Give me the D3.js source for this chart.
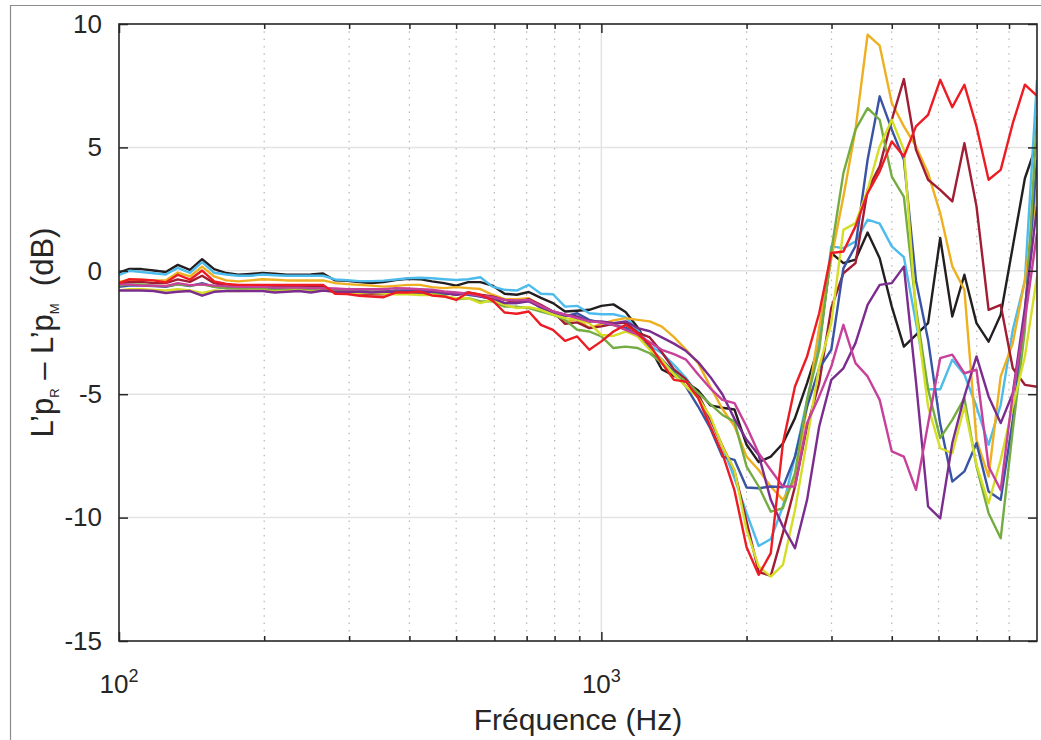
<!DOCTYPE html>
<html>
<head>
<meta charset="utf-8">
<script src="https://cdn.jsdelivr.net/npm/d3@7"></script>
<style>
  body { margin: 0; background: #fff; }
  svg { display: block; font-family: "Liberation Sans", Arial, Helvetica, sans-serif; }
</style>
</head>
<body>
<svg id="chart" width="1041" height="740"></svg>
<script>
// 1/12-octave analysis frequencies (Hz)
const freq = [
  99.21, 105.11, 111.36, 117.98, 125.0, 132.4, 140.3, 148.7, 157.5, 166.9,
  176.8, 187.3, 198.4, 210.2, 222.7, 236.0, 250.0, 264.9, 280.6, 297.3,
  315.0, 333.7, 353.6, 374.6, 396.9, 420.4, 445.4, 471.9, 500.0, 529.7,
  561.2, 594.6, 630.0, 667.4, 707.1, 749.2, 793.7, 840.9, 890.9, 943.9,
  1000, 1059.5, 1122.5, 1189.2, 1259.9, 1334.8, 1414.2, 1498.3, 1587.4, 1681.8,
  1781.8, 1887.7, 2000, 2118.9, 2244.9, 2378.4, 2519.8, 2669.6, 2828.4, 2996.6,
  3174.8, 3363.6, 3563.6, 3775.5, 4000, 4237.8, 4489.8, 4756.8, 5039.7, 5339.4,
  5656.9, 5993.3, 6349.6, 6727.2, 7127.2, 7551.0, 8000
];

// Level differences L'pR - L'pM (dB), one array per measurement position
const curveBlack = [
  -0.09, 0.08, 0.07, 0.01, -0.05, 0.24, 0.04, 0.47, 0.07, -0.09,
  -0.16, -0.13, -0.09, -0.12, -0.16, -0.16, -0.15, -0.11, -0.39, -0.41,
  -0.46, -0.5, -0.46, -0.38, -0.32, -0.34, -0.43, -0.5,
  -0.6, -0.46, -0.46, -0.6, -0.93, -0.97, -0.86, -1.1, -1.31, -1.65, -1.62, -1.58,
  -1.42, -1.36, -1.67, -2.3, -3.1, -4.0, -4.25, -4.5, -4.85, -5.45, -5.55, -5.62,
  -7.05, -7.75, -7.53, -7.0, -5.97, -4.55, -3.0, 0.72, 0.31, 0.45, 1.55, 0.51,
  -1.45, -3.07, -2.6, -2.12, 1.33, -1.85, -0.16, -2.12, -2.87, -1.78, 0.98, 3.75, 5.17
];
const curveLightBlue = [
  -0.2, 0.0, -0.05, -0.1, -0.15, 0.12, -0.08, 0.35, -0.08, -0.15,
  -0.2, -0.2, -0.15, -0.18, -0.2, -0.2, -0.2, -0.2, -0.35, -0.38,
  -0.42, -0.42, -0.4, -0.35, -0.3, -0.28, -0.3, -0.34,
  -0.37, -0.34, -0.26, -0.64, -0.77, -0.8, -0.57, -0.93, -0.95, -1.45, -1.42, -1.72,
  -1.76, -1.76, -1.88, -2.4, -3.03, -3.34, -3.81, -4.35, -5.03, -6.04, -7.12, -8.4,
  -9.82, -11.15, -10.87, -9.55, -7.53, -5.23, -2.93, 0.99, 0.92, 1.19, 2.07, 1.91,
  0.99, 0.55, -2.1, -4.8, -4.8, -3.6, -4.2, -5.5, -7.05, -5.43, -2.39, -0.4, 7.74
];
const curveOrange = [
  -0.47, -0.36, -0.36, -0.39, -0.39, -0.07, -0.23, 0.17, -0.23, -0.39,
  -0.43, -0.39, -0.34, -0.36, -0.39, -0.39, -0.39, -0.39, -0.5, -0.54,
  -0.57, -0.6, -0.64, -0.61, -0.57, -0.57, -0.66, -0.7,
  -0.66, -0.7, -0.74, -0.97, -1.15, -1.15, -1.11, -1.42, -1.65, -2.09, -1.96, -2.32,
  -2.15, -2.01, -1.92, -1.99, -2.05, -2.26, -2.69, -3.2, -3.74, -4.69, -5.6, -6.3,
  -7.53, -8.07, -8.74, -9.28, -8.47, -5.5, -2.3, 0.5, 3.0, 5.72, 9.57, 9.12,
  6.8, 5.85, 5.04, 3.96, 2.34, 0.18, -0.77, -6.85, -8.34, -4.28, -2.93, -0.37, 3.28
];
const curveDarkRed = [
  -0.55, -0.45, -0.45, -0.5, -0.5, -0.35, -0.45, -0.2, -0.5, -0.6,
  -0.62, -0.62, -0.62, -0.65, -0.65, -0.65, -0.65, -0.62, -0.85, -0.88,
  -0.92, -0.95, -0.95, -0.85, -0.85, -0.88, -0.93, -0.9,
  -0.97, -0.88, -0.97, -1.04, -1.18, -1.28, -1.15, -1.38, -1.65, -2.15, -2.09, -2.32,
  -2.25, -2.15, -2.1, -2.5, -2.7, -3.3, -4.0, -4.4, -5.0, -6.0, -7.1, -8.1,
  -10.16, -12.2, -12.36, -10.63, -8.74, -6.31, -4.55, -1.5, -0.1, 0.31, 3.28, 4.23,
  6.12, 7.77, 4.9, 3.69, 3.28, 2.81, 5.17, 2.61, -1.58, -1.38, -3.95, -4.62, -4.7
];
const curveBlue = [
  -0.65, -0.6, -0.6, -0.62, -0.65, -0.55, -0.62, -0.5, -0.65, -0.7,
  -0.7, -0.7, -0.7, -0.72, -0.72, -0.72, -0.72, -0.7, -0.78, -0.8,
  -0.82, -0.85, -0.85, -0.8, -0.8, -0.82, -0.84, -0.93,
  -0.9, -0.97, -1.04, -1.15, -1.31, -1.31, -1.18, -1.51, -1.69, -1.85, -1.72, -1.99,
  -2.1, -2.2, -2.3, -2.65, -3.15, -3.6, -4.1, -4.7, -5.5, -6.38, -7.53, -7.66,
  -8.78, -8.81, -8.74, -8.77, -7.53, -5.5, -3.95, -3.2, 0.1, 1.0, 4.5, 7.07,
  5.72, 4.5, -0.4, -2.8, -6.2, -8.54, -8.13, -6.98, -8.94, -9.28, -6.04, -1.7, 4.5
];
const curveGreen = [
  -0.6, -0.55, -0.55, -0.6, -0.62, -0.55, -0.6, -0.55, -0.65, -0.7,
  -0.72, -0.72, -0.72, -0.78, -0.75, -0.72, -0.78, -0.72, -0.8, -0.82,
  -0.85, -0.85, -0.85, -0.85, -0.88, -0.9, -0.91, -1.01,
  -1.15, -1.11, -1.24, -1.24, -1.45, -1.45, -1.51, -1.65, -1.78, -1.99, -2.39, -2.46,
  -2.66, -3.13, -3.07, -3.13, -3.34, -3.74, -4.15, -4.49, -4.95, -5.4, -5.84, -6.11,
  -7.93, -8.74, -9.76, -9.62, -8.2, -5.23, -3.2, 0.8, 3.96, 5.72, 6.59, 6.12,
  3.82, 3.0, -1.5, -4.8, -6.78, -6.04, -5.16, -7.93, -9.82, -10.84, -6.44, -2.39, 6.25
];
const curveLime = [
  -0.8, -0.75, -0.75, -0.78, -0.8, -0.75, -0.8, -0.9, -0.8, -0.82,
  -0.82, -0.8, -0.8, -0.85, -0.82, -0.8, -0.85, -0.8, -0.85, -0.88,
  -0.9, -0.9, -0.92, -0.95, -0.95, -0.98, -0.97, -1.04,
  -1.11, -1.11, -1.31, -1.18, -1.38, -1.51, -1.47, -1.58, -1.78, -1.92, -1.99, -2.12,
  -2.6, -2.64, -2.46, -2.66, -3.2, -3.61, -4.2, -4.69, -5.15, -5.9, -7.12, -8.07,
  -10.5, -11.98, -12.39, -11.92, -9.69, -6.85, -3.88, -2.12, 1.66, 1.93, 3.28, 5.04,
  6.12, 4.9, -1.7, -5.5, -7.19, -7.39, -5.5, -7.86, -9.42, -7.66, -5.5, -3.47, -0.23
];
const curvePurple = [
  -0.8, -0.8, -0.8, -0.82, -0.9, -0.85, -0.82, -1.01, -0.85, -0.82,
  -0.82, -0.82, -0.82, -0.88, -0.85, -0.82, -0.88, -0.8, -0.85, -0.85,
  -0.85, -0.88, -0.85, -0.85, -0.85, -0.88, -0.84, -0.88,
  -0.97, -0.9, -1.04, -1.11, -1.31, -1.31, -1.24, -1.47, -1.65, -1.78, -1.85, -2.05,
  -2.05, -2.12, -2.05, -2.32, -2.45, -2.7, -2.95, -3.25, -3.7, -4.3, -5.0, -6.0,
  -6.85, -7.46, -9.28, -10.36, -11.24, -9.28, -6.31, -4.42, -3.95, -2.93, -1.38, -0.57,
  -0.5, 0.17, -4.5, -9.55, -10.03, -6.98, -5.09, -3.47, -5.09, -6.17, -4.96, -1.5, 2.6
];
const curveMagenta = [
  -0.55, -0.55, -0.6, -0.6, -0.62, -0.5, -0.58, -0.55, -0.6, -0.62,
  -0.65, -0.65, -0.65, -0.68, -0.68, -0.68, -0.7, -0.7, -0.72, -0.75,
  -0.75, -0.75, -0.75, -0.7, -0.72, -0.75, -0.77, -0.84,
  -0.88, -0.93, -1.01, -1.07, -1.18, -1.2, -1.18, -1.42, -1.65, -1.78, -1.92, -2.05,
  -2.09, -2.19, -2.39, -2.59, -2.9, -3.2, -3.38, -3.6, -4.2, -4.76, -5.23, -5.36,
  -6.31, -7.39, -8.07, -8.74, -8.74, -6.17, -5.09, -3.88, -2.19, -3.74, -4.28, -5.23,
  -7.32, -7.53, -8.88, -6.2, -3.54, -3.4, -4.15, -4.01, -7.93, -8.88, -5.0, -2.0, 1.53
];
const curveRed = [
  -0.53, -0.34, -0.36, -0.39, -0.47, -0.16, -0.36, 0.01, -0.43, -0.53,
  -0.57, -0.57, -0.57, -0.57, -0.57, -0.57, -0.57, -0.57, -0.93, -0.94,
  -1.01, -1.04, -1.07, -0.88, -0.88, -0.84, -1.0, -1.04,
  -1.18, -0.88, -0.97, -1.2, -1.69, -1.74, -1.65, -2.19, -2.39, -2.84, -2.66, -3.2,
  -2.86, -2.46, -2.19, -2.53, -3.0, -3.74, -4.42, -4.49, -5.16, -6.3, -7.4, -8.9,
  -11.2, -12.32, -11.44, -7.0, -4.69, -3.47, -1.72, 0.72, 0.78, 1.8, 3.15, 4.03,
  5.24, 4.63, 5.85, 6.32, 7.74, 6.63, 7.54, 5.85, 3.69, 4.09, 5.98, 7.54, 7.09
];

const curves = [
  { values: curveBlack,     color: "#231f20" },
  { values: curveLightBlue, color: "#4dbbeb" },
  { values: curveOrange,    color: "#eeb020" },
  { values: curveDarkRed,   color: "#a11d33" },
  { values: curveBlue,      color: "#3954a4" },
  { values: curveGreen,     color: "#74ac42" },
  { values: curveLime,      color: "#d4de26" },
  { values: curvePurple,    color: "#7b2d8f" },
  { values: curveMagenta,   color: "#c7419a" },
  { values: curveRed,       color: "#ed1c24" }
];

const yTicks = [-15, -10, -5, 0, 5, 10];
const xMajorTicks = [100, 1000];
const xMinorTicks = [200, 300, 400, 500, 600, 700, 800, 900, 2000, 3000, 4000, 5000, 6000, 7000];
const xMajorLabels = [{ base: "10", exp: "2" }, { base: "10", exp: "3" }];

const plot = { left: 119, right: 1037, top: 24, bottom: 641 };
const x = d3.scaleLog().domain([100, 8000]).range([plot.left, plot.right]);
const y = d3.scaleLinear().domain([-15, 10]).range([plot.bottom, plot.top]);

const svg = d3.select("#chart");
const axisColor = "#262626";

// figure frame
svg.append("path")
  .attr("d", "M10.5,740 V5.5 H1041")
  .attr("fill", "none")
  .attr("stroke", "#8c8c8c")
  .attr("stroke-width", 1.2);

// plot background
svg.append("rect")
  .attr("x", plot.left).attr("y", plot.top)
  .attr("width", plot.right - plot.left).attr("height", plot.bottom - plot.top)
  .attr("fill", "#fff");

// grid
const grid = svg.append("g");
grid.selectAll("line.ygrid").data(yTicks.slice(1, -1)).join("line")
  .attr("x1", plot.left).attr("x2", plot.right)
  .attr("y1", d => y(d)).attr("y2", d => y(d))
  .attr("stroke", "#e3e3e3").attr("stroke-width", 1.5);
grid.selectAll("line.xgrid").data(xMajorTicks.slice(1)).join("line")
  .attr("x1", d => x(d)).attr("x2", d => x(d))
  .attr("y1", plot.top).attr("y2", plot.bottom)
  .attr("stroke", "#e3e3e3").attr("stroke-width", 1.5);
grid.selectAll("line.xminor").data(xMinorTicks).join("line")
  .attr("x1", d => x(d)).attr("x2", d => x(d))
  .attr("y1", plot.top).attr("y2", plot.bottom)
  .attr("stroke", "#b5b5b5").attr("stroke-width", 1.2)
  .attr("stroke-dasharray", "1.5,5.8");

// curves
svg.append("clipPath").attr("id", "plotClip")
  .append("rect")
  .attr("x", plot.left).attr("y", plot.top)
  .attr("width", plot.right - plot.left).attr("height", plot.bottom - plot.top);

const line = d3.line()
  .x((d, i) => x(freq[i]))
  .y(d => y(d));

svg.append("g").attr("clip-path", "url(#plotClip)")
  .selectAll("path").data(curves).join("path")
  .attr("d", d => line(d.values))
  .attr("fill", "none")
  .attr("stroke", d => d.color)
  .attr("stroke-width", 2.4)
  .attr("stroke-linejoin", "round");

// axes (ticks pointing inward on all four sides)
function styleAxis(g) {
  g.select(".domain").remove();
  g.selectAll(".tick line").attr("stroke", axisColor).attr("stroke-width", 1.5);
  g.selectAll(".tick text").attr("fill", axisColor).attr("font-size", 26)
    .attr("font-family", "\"Liberation Sans\", Arial, sans-serif");
}

svg.append("g").attr("transform", `translate(${plot.left},0)`)
  .call(d3.axisLeft(y).tickValues(yTicks).tickSize(-9).tickPadding(17).tickFormat(d => String(d)))
  .call(styleAxis);
svg.append("g").attr("transform", `translate(${plot.right},0)`)
  .call(d3.axisRight(y).tickValues(yTicks).tickSize(-9).tickFormat(""))
  .call(styleAxis);
svg.append("g").attr("transform", `translate(0,${plot.bottom})`)
  .call(d3.axisBottom(x).tickValues(xMajorTicks).tickSize(-9).tickFormat(""))
  .call(styleAxis);
svg.append("g").attr("transform", `translate(0,${plot.bottom})`)
  .call(d3.axisBottom(x).tickValues(xMinorTicks).tickSize(-5).tickFormat(""))
  .call(styleAxis);
svg.append("g").attr("transform", `translate(0,${plot.top})`)
  .call(d3.axisTop(x).tickValues(xMajorTicks).tickSize(-9).tickFormat(""))
  .call(styleAxis);
svg.append("g").attr("transform", `translate(0,${plot.top})`)
  .call(d3.axisTop(x).tickValues(xMinorTicks).tickSize(-5).tickFormat(""))
  .call(styleAxis);

// box
svg.append("rect")
  .attr("x", plot.left).attr("y", plot.top)
  .attr("width", plot.right - plot.left).attr("height", plot.bottom - plot.top)
  .attr("fill", "none").attr("stroke", axisColor).attr("stroke-width", 1.6);

// x tick labels as powers of ten
const xl = svg.append("g").selectAll("text").data(xMajorTicks).join("text")
  .attr("x", d => x(d)).attr("y", 693)
  .attr("text-anchor", "middle")
  .attr("fill", axisColor).attr("font-size", 26);
xl.append("tspan").text((d, i) => xMajorLabels[i].base);
xl.append("tspan").attr("dy", -11).attr("font-size", 18).text((d, i) => xMajorLabels[i].exp);

// axis titles
svg.append("text")
  .attr("x", (plot.left + plot.right) / 2).attr("y", 730)
  .attr("text-anchor", "middle")
  .attr("fill", axisColor).attr("font-size", 30)
  .text("Fréquence (Hz)");

const yt = svg.append("text")
  .attr("transform", `translate(53,${(plot.top + plot.bottom) / 2}) rotate(-90)`)
  .attr("text-anchor", "middle")
  .attr("fill", axisColor).attr("font-size", 31);
yt.append("tspan").text("L’p");
yt.append("tspan").attr("font-size", 13).attr("dy", 6).text("R");
yt.append("tspan").attr("dy", -6).text("\u00a0– L’p");
yt.append("tspan").attr("font-size", 13).attr("dy", 6).text("M");
yt.append("tspan").attr("dy", -6).text("\u00a0\u00a0(dB)");
</script>
</body>
</html>
